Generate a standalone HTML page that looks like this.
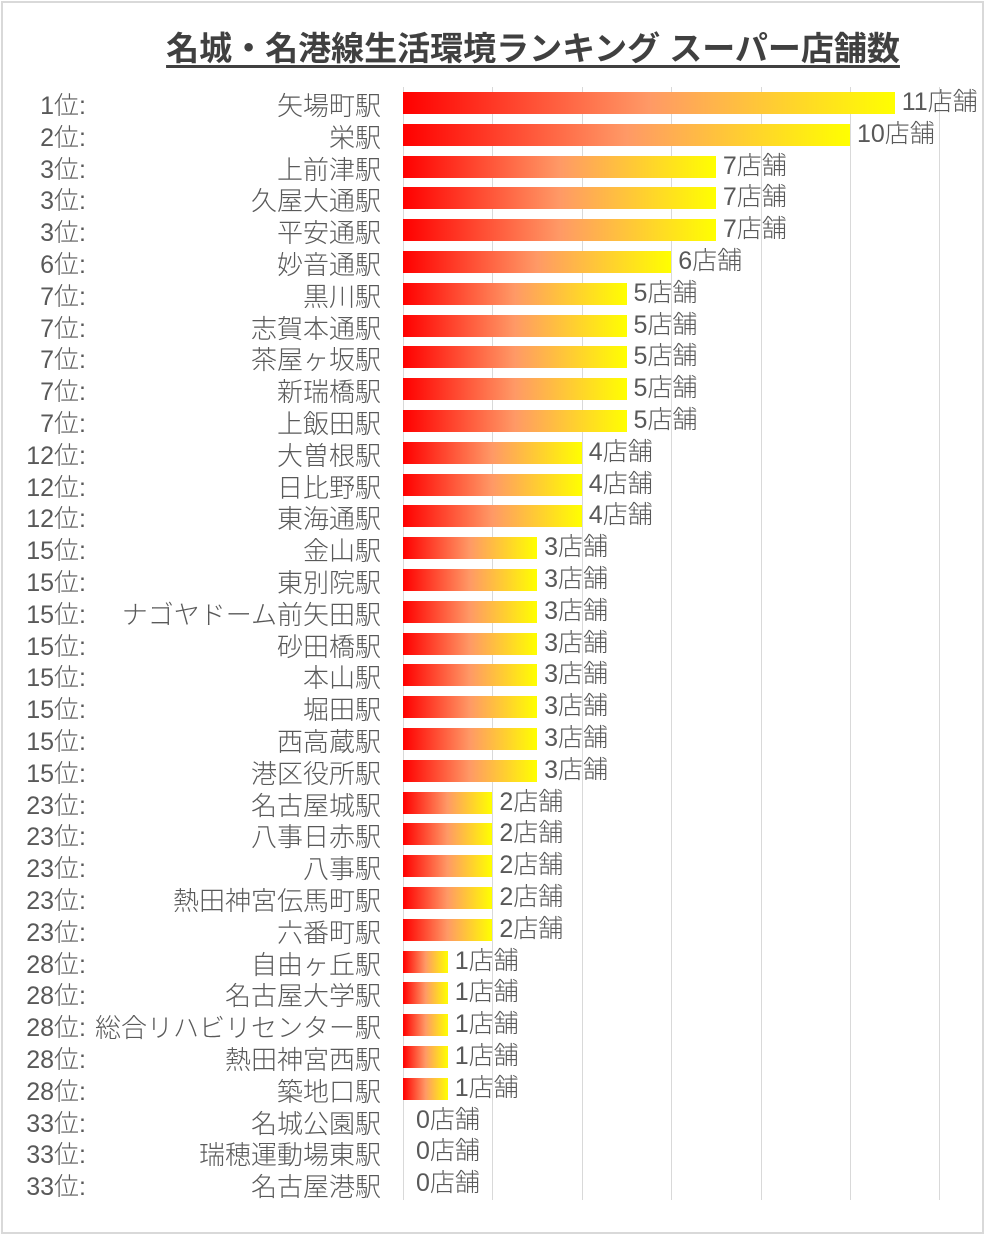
<!DOCTYPE html>
<html><head><meta charset="utf-8"><style>
body{margin:0;width:985px;height:1235px;background:#fff;position:relative;overflow:hidden;font-family:"Liberation Sans","Noto Sans CJK JP",sans-serif;}
.frame{position:absolute;left:1px;top:1px;width:979px;height:1229px;border:2px solid #d9d9d9;}
.title{position:absolute;left:0;width:1066px;top:29px;text-align:center;font-size:33px;font-weight:bold;color:#404040;line-height:40px;}
.title span{text-decoration:underline;text-underline-offset:5px;}
.t{position:absolute;font-size:25px;color:#595959;line-height:28px;white-space:nowrap;font-weight:300;}
.n{font-size:26px;}
.r{text-align:right;}
.grid{position:absolute;top:87px;height:1113px;width:1px;background:#d9d9d9;}
.bar{position:absolute;height:22px;}
</style></head><body>
<div class="frame"></div>
<div class="title"><span>名城・名港線生活環境ランキング スーパー店舗数</span></div>
<div id="c"></div>
<script>
const d=[["1位:","矢場町駅",11],["2位:","栄駅",10],["3位:","上前津駅",7],["3位:","久屋大通駅",7],["3位:","平安通駅",7],["6位:","妙音通駅",6],["7位:","黒川駅",5],["7位:","志賀本通駅",5],["7位:","茶屋ヶ坂駅",5],["7位:","新瑞橋駅",5],["7位:","上飯田駅",5],["12位:","大曽根駅",4],["12位:","日比野駅",4],["12位:","東海通駅",4],["15位:","金山駅",3],["15位:","東別院駅",3],["15位:","ナゴヤドーム前矢田駅",3],["15位:","砂田橋駅",3],["15位:","本山駅",3],["15位:","堀田駅",3],["15位:","西高蔵駅",3],["15位:","港区役所駅",3],["23位:","名古屋城駅",2],["23位:","八事日赤駅",2],["23位:","八事駅",2],["23位:","熱田神宮伝馬町駅",2],["23位:","六番町駅",2],["28位:","自由ヶ丘駅",1],["28位:","名古屋大学駅",1],["28位:","総合リハビリセンター駅",1],["28位:","熱田神宮西駅",1],["28位:","築地口駅",1],["33位:","名城公園駅",0],["33位:","瑞穂運動場東駅",0],["33位:","名古屋港駅",0]];
let h="";
for(let g=0;g<=6;g++){h+=`<div class="grid" style="left:${403+g*89.4}px"></div>`;}
d.forEach((e,i)=>{const cy=103+i*31.8;const w=e[2]*44.7;
h+=`<div class="t r" style="left:0;width:86px;top:${cy-11}px">${e[0]}</div>`;
h+=`<div class="t r n" style="left:70px;width:311px;top:${cy-11}px">${e[1]}</div>`;
if(w>0)h+=`<div class="bar" style="left:403px;width:${w}px;top:${cy-11}px;background:linear-gradient(to right,#ff0000,#ff9966 50%,#ffff00)"></div>`;
h+=`<div class="t" style="left:${403+w+(w>0?7:13)}px;top:${cy-15}px">${e[2]}店舗</div>`;});
document.getElementById("c").innerHTML=h;
</script>
</body></html>
